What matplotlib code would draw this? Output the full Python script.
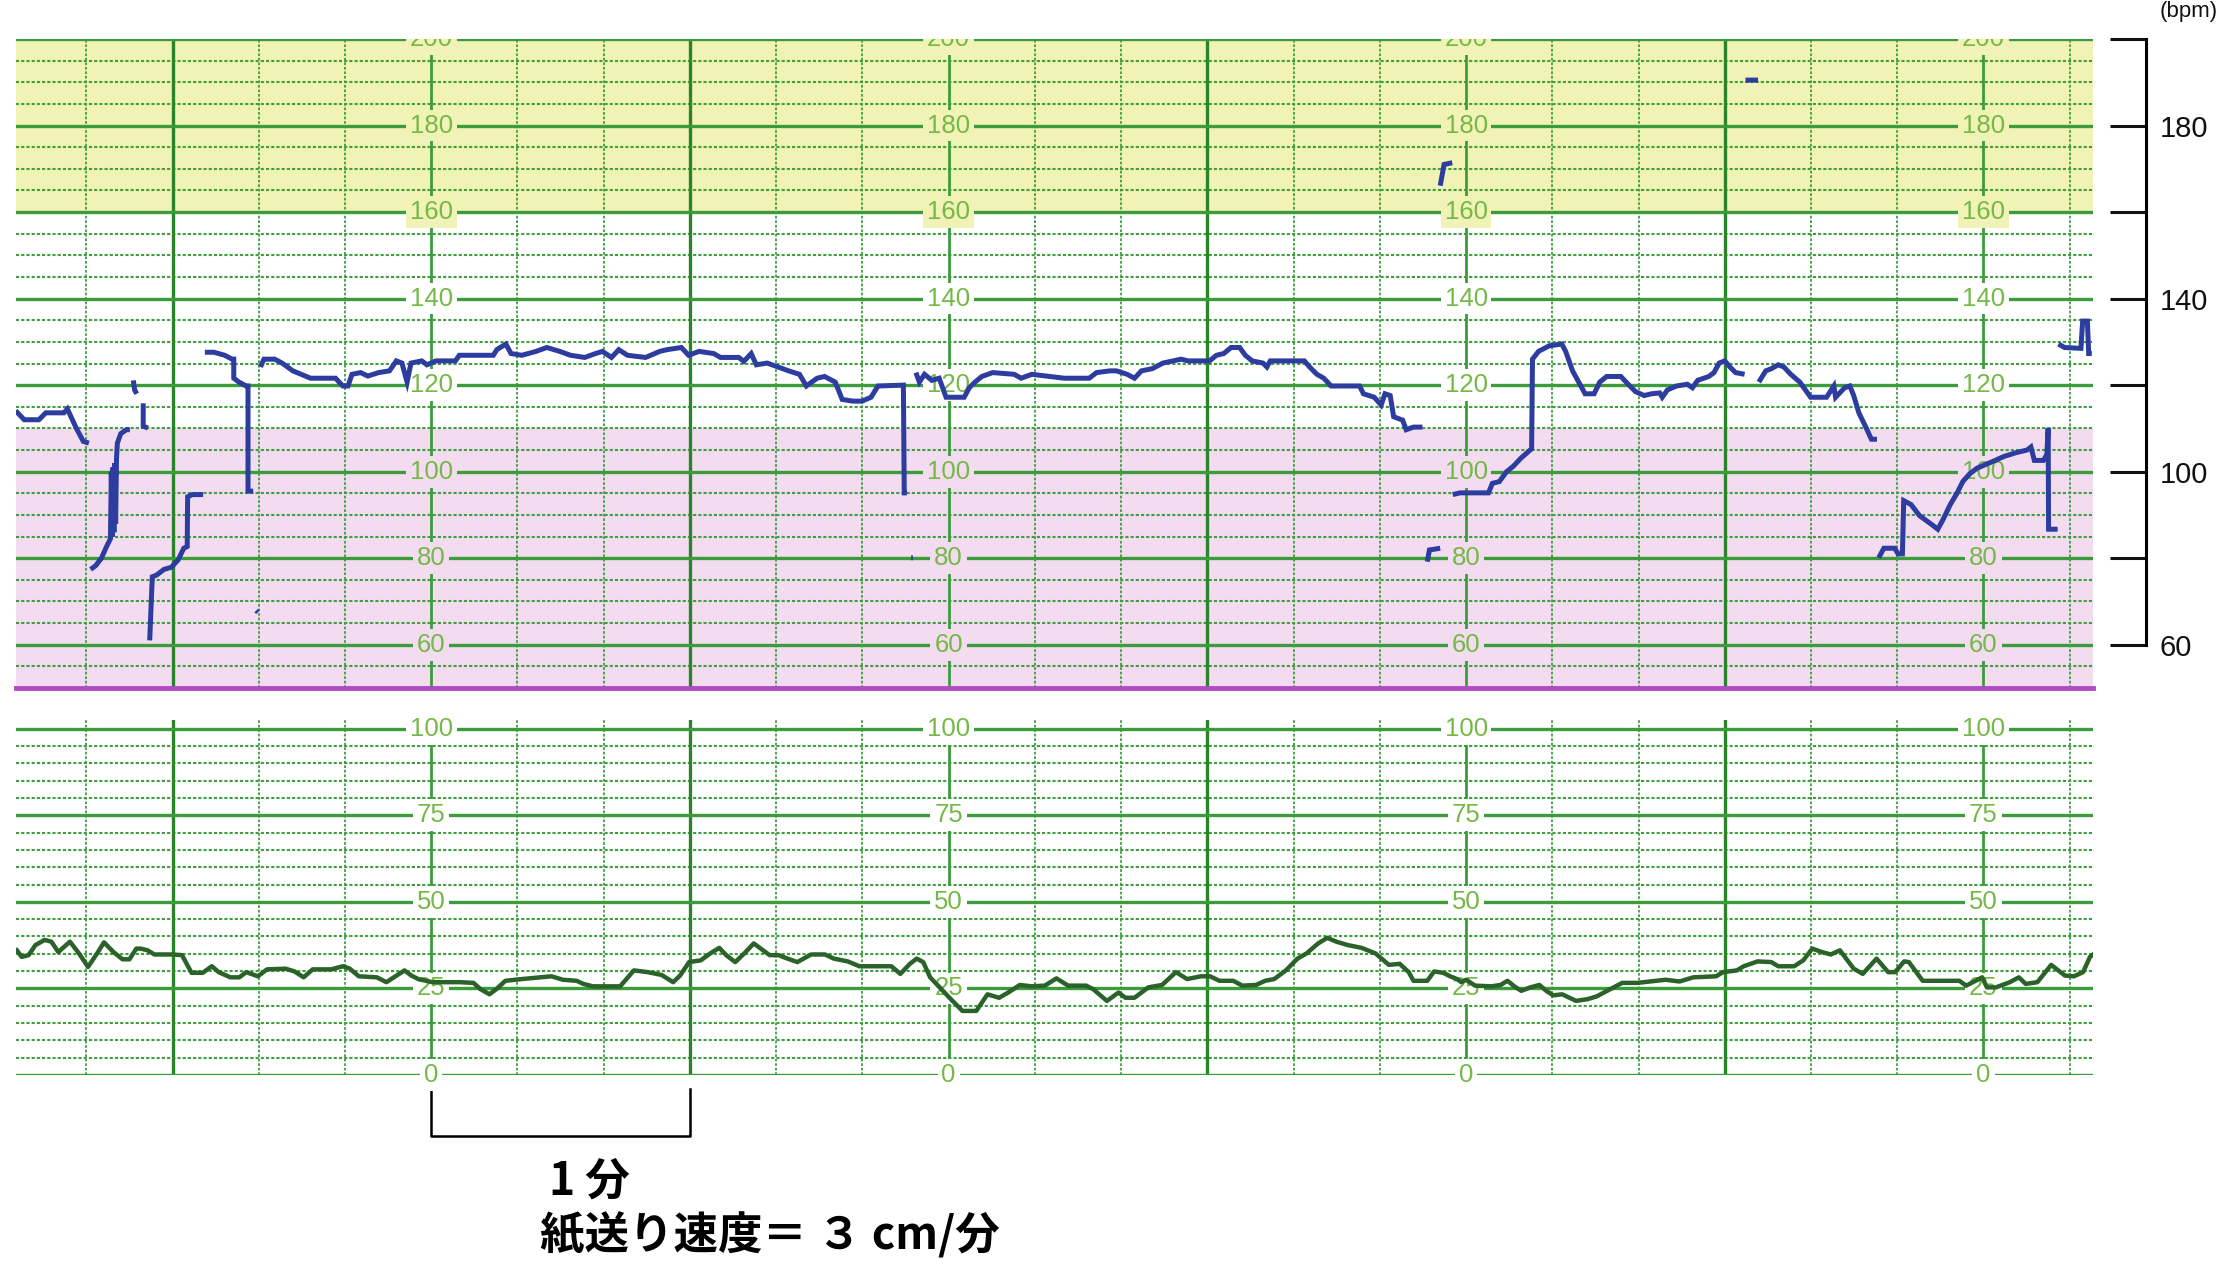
import numpy as np
import matplotlib
matplotlib.use('Agg')
import matplotlib.pyplot as plt

nan = np.nan

# time in seconds, 0 = first column of scale numbers; one grid cell = 20 s (1 cm at 3 cm/min)
x_min, x_max = -96.4, 385.4
scale_cols = [0, 120, 240, 360]

fhr_labels = [200, 180, 160, 140, 120, 100, 80, 60]
ua_labels = [100, 75, 50, 25, 0]
right_major = [180, 140, 100, 60]
right_minor = [200, 160, 120, 80]
bracket_span = [0, 60]   # one minute

# fetal heart rate (bpm), nan = signal lost
fhr_time = [
    -96.4, -94.4, -91.0, -89.4, -85.2, -84.4, -82.3, -80.7, -79.4, nan,
    -79.0, -77.8, -76.5, -75.3, -74.4, -74.2, -74.0, -73.8, -73.6, -73.4, -73.2, -73.0, -72.8, -72.0, -70.7, -69.9, nan,
    -69.1, -68.8, -68.3, nan,
    -66.8, -66.8, -65.7, nan,
    -65.3, -65.0, -64.7, -63.7, -62.0, -60.3, -58.7, -57.4, -56.6, -56.5, -55.4, -52.9, nan,
    -40.6, -40.2, nan,
    -52.5, -50.4, -47.9, -46.2, -45.8, -45.8, -44.6, -42.9, -42.5, -42.5, -41.3, nan,
    -39.6, -38.8, -36.3, -34.6, -32.1, -28.0, -22.2, -20.5, -19.3, -18.4, -16.4, -14.7, -12.2, -9.7, -8.1,
    -6.8, -5.6, -4.7, -2.2, -1.0, 1.1, 5.6, 6.5, 14.4, 15.2, 17.3, 18.5, 21.0, 24.3, 26.8,
    29.8, 32.3, 35.6, 38.1, 39.7, 41.8, 43.5, 45.5, 49.7, 53.0, 54.7, 58.0, 59.7, 62.1, 65.5, 67.1, 71.3, 72.5,
    74.2, 75.4, 77.9, 80.4, 82.9, 85.4, 87.0, 89.5, 91.2, 93.7, 95.3, 97.8, 99.9, 102.0, 103.6, 109.5, 109.7, 110.3, nan,
    111.3, 111.7, nan,
    112.4, 113.2, 114.4, 116.1, 117.8, 119.4, 123.6, 124.8, 126.1, 127.7, 130.2, 135.2, 136.8, 139.3, 143.5, 146.8,
    152.6, 154.3, 157.4,
    158.9, 161.4, 163.1, 164.7, 167.2, 169.7, 173.9, 175.5, 180.5, 182.1, 183.8, 185.5, 187.5, 188.8, 190.4, 192.9,
    193.8, 194.6, 202.5, 203.7, 205.4, 207.0, 208.7, 215.3, 216.2, 218.7, 220.3, 221.2, 222.4, 223.2, 225.3, 226.1,
    227.8, 229.9, nan,
    231.0, 231.5, 234.0, nan,
    234.0, 234.9, 236.8, nan,
    236.9, 238.6, 245.2, 246.1, 247.7, 249.4, 251.0, 252.7, 255.2, 255.4, 256.8, 259.3, 262.2, 263.1, 264.7, 267.6,
    269.7, 271.0, 272.6, 275.9, 277.6, 279.3, 281.3, 283.0, 284.9,
    285.5, 286.7, 288.8, 291.3, 292.5, 293.7, 296.3, 297.5, 298.7, 300.0, 301.2, 302.5, 304.6, nan,
    304.8, 307.7, nan,
    307.9, 309.5, 310.8, 312.4, 313.7, 315.3, 317.4, 318.7, 319.9, 323.6, 325.3, 325.7, 327.8, 329.0, 329.9, 331.1,
    332.8, 334.0, 335.3, nan,
    335.7, 336.9, 339.4, 340.2, 341.2, 341.5, 343.2, 345.2, 347.7, 349.4, 350.6, 352.3, 353.9, 355.2, 356.8, 358.5,
    360.6, 362.7, 364.7, 367.6, 370.1, 371.0, 371.8, 373.9, 374.7, 375.0, 375.1, 377.2, nan,
    377.4, 378.8, 382.6, 383.0, 384.1, 384.4, 385.1,
]
fhr_bpm = [
    114.1, 112.0, 112.0, 113.6, 113.6, 114.5, 110.0, 107.0, 106.6, nan,
    77.4, 78.3, 80.0, 82.7, 84.5, 100.0, 85.0, 101.0, 86.0, 102.0, 88.0, 103.0, 106.6, 108.8, 109.7, 109.7, nan,
    121.1, 118.9, 118.0, nan,
    115.8, 110.5, 110.1, nan,
    61.0, 68.2, 75.7, 76.1, 77.4, 77.9, 79.6, 82.3, 82.7, 94.2, 94.7, 94.7, nan,
    67.9, 67.5, nan,
    127.6, 127.6, 126.9, 126.0, 126.0, 121.6, 120.7, 119.8, 119.8, 95.5, 95.5, nan,
    124.2, 126.0, 126.0, 125.1, 123.3, 121.6, 121.6, 119.8, 119.8, 122.5, 122.9, 122.1, 122.9, 123.3, 125.6,
    125.1, 120.7, 125.1, 125.6, 124.7, 125.6, 125.6, 126.9, 126.9, 128.2, 129.5, 127.3, 126.9, 127.8, 128.7,
    127.8, 126.9, 126.4, 127.3, 127.8, 126.4, 128.2, 126.9, 126.4, 127.8, 128.2, 128.7, 126.9, 127.8, 127.3, 126.4, 126.4, 125.5,
    127.3, 124.7, 125.1, 124.2, 123.3, 122.5, 119.8, 121.6, 122.0, 120.7, 116.7, 116.3, 116.3, 117.2, 119.8, 120.0, 95.1, 95.1, nan,
    80.1, 80.1, nan,
    122.9, 120.7, 122.5, 121.1, 121.6, 117.2, 117.2, 119.4, 120.7, 122.0, 122.9, 122.5, 121.6, 122.5, 122.0, 121.6,
    121.6, 122.9, 123.3,
    123.3, 122.5, 121.6, 123.3, 123.8, 125.1, 126.0, 125.6, 125.6, 126.9, 127.3, 128.7, 128.7, 126.9, 125.6, 125.1,
    124.2, 125.6, 125.6, 124.2, 122.5, 121.6, 119.8, 119.8, 118.0, 117.2, 115.4, 118.0, 117.6, 112.7, 111.9, 109.7,
    110.3, 110.3, nan,
    79.2, 81.9, 82.3, nan,
    166.1, 171.0, 171.4, nan,
    94.7, 95.1, 95.1, 97.3, 97.7, 100.0, 101.3, 103.1, 105.3, 126.0, 127.8, 129.1, 129.5, 127.8, 123.3, 118.0,
    118.0, 120.7, 122.0, 122.0, 120.2, 118.5, 117.6, 118.0, 118.2,
    117.2, 118.9, 119.8, 120.2, 119.4, 121.1, 122.0, 122.9, 125.1, 125.6, 124.2, 122.9, 122.5, nan,
    190.5, 190.5, nan,
    120.7, 123.3, 123.8, 124.7, 124.2, 122.5, 120.7, 118.9, 117.2, 117.2, 119.8, 117.2, 119.4, 119.8, 117.6, 113.6,
    110.1, 107.5, 107.5, nan,
    80.1, 82.3, 82.3, 81.0, 81.0, 93.3, 92.4, 89.8, 88.0, 86.7, 88.9, 92.4, 95.1, 97.7, 99.5, 100.8,
    101.7, 102.6, 103.5, 104.4, 105.0, 105.7, 102.6, 102.6, 104.0, 110.1, 86.7, 86.7, nan,
    129.5, 128.7, 128.5, 134.8, 134.8, 127.3, 127.3,
]

# uterine activity
ua_time = [
    -96.1, -95.0, -93.4, -91.8, -89.7, -88.1, -86.5, -83.8, -81.7, -79.6, -77.5, -75.9, -73.7, -71.6, -70.0, -68.4,
    -67.4, -65.8, -64.2, -59.9, -57.8, -55.6, -53.0, -50.9, -49.3, -46.6, -44.5, -42.9, -40.2, -38.1, -33.8, -31.7,
    -29.6, -27.5, -23.2, -20.5, -18.9, -16.8, -12.6, -10.4, -8.3, -6.2, -4.6, -3.0, 0.2, 6.6, 9.8, 11.4, 13.5, 15.1,
    17.2, 21.0, 25.2, 27.9, 30.5, 33.7, 35.3, 37.5, 43.8, 47.0, 50.2, 53.4, 56.1, 57.7, 59.8,
    62.5, 64.7, 66.8, 68.4, 70.5, 72.6, 74.8, 76.4, 78.5, 80.6, 82.2, 84.9, 88.1, 91.3, 93.4, 96.6, 99.3, 106.7,
    108.8, 111.0, 112.6, 114.1, 115.7, 117.9, 120.5, 123.2, 126.4, 129.0, 131.7, 133.8, 136.5, 139.2, 142.3, 145.0,
    147.7, 151.9, 153.5, 156.7, 159.4, 161.0, 163.1, 166.3, 169.5, 172.7, 175.3, 178.5, 180.6, 182.8, 186.0, 188.1,
    191.3, 193.4, 195.5, 198.2, 200.9, 203.0, 205.7, 207.8, 209.9, 212.6, 215.8, 219.0, 222.1,
    224.6, 226.7, 227.8, 231.0, 232.6, 234.7, 236.3, 237.9, 238.9, 240.0, 242.1, 245.9, 248.0, 249.6, 251.2, 252.8,
    254.9, 257.0, 258.6, 260.2, 262.3, 265.5, 268.2, 270.3, 273.5, 276.2, 279.9, 282.6, 286.3, 289.5, 292.7, 298.0,
    299.6, 302.8, 304.4, 307.6, 310.8, 312.4, 316.1, 318.2, 320.3, 322.5, 324.6, 326.7, 329.9, 332.0, 335.2, 337.9,
    339.5, 341.6, 342.7, 345.9, 354.4, 356.0, 359.7, 360.8, 362.9, 366.1, 368.2, 369.8, 372.5, 375.7, 378.9, 381.0,
    383.1, 384.7, 385.2,
]
ua_value = [
    36.0, 34.1, 34.6, 37.5, 39.0, 38.5, 35.5, 38.5, 35.1, 31.2, 35.1, 38.3, 35.5, 33.4, 33.4, 36.5,
    36.5, 36.0, 34.8, 34.8, 34.6, 29.5, 29.5, 31.4, 29.7, 28.2, 28.2, 29.7, 28.5, 30.5, 30.7, 29.9,
    28.2, 30.5, 30.5, 31.4, 30.7, 28.5, 28.2, 26.8, 28.5, 30.2, 28.7, 27.7, 26.8, 26.8, 26.6, 24.8, 23.3, 24.8,
    27.2, 27.7, 28.2, 28.5, 27.5, 27.2, 26.3, 25.6, 25.6, 30.2, 29.7, 28.9, 26.8, 28.7, 32.6,
    33.1, 35.1, 36.7, 34.6, 32.6, 35.1, 38.0, 36.5, 34.6, 34.6, 33.8, 32.6, 34.8, 34.8, 33.6, 32.8, 31.4, 31.4,
    29.2, 32.1, 33.6, 32.6, 28.2, 25.3, 21.9, 18.5, 18.5, 23.3, 22.3, 23.8, 26.0, 25.6, 25.8, 27.9,
    25.8, 25.8, 24.8, 21.4, 23.8, 22.3, 22.3, 25.3, 26.0, 29.7, 27.7, 28.5, 28.5, 27.2, 27.2, 25.8,
    26.0, 27.2, 27.7, 30.2, 33.6, 35.1, 38.0, 39.6, 38.5, 37.5, 36.7, 35.1, 31.8,
    32.1, 29.7, 27.2, 27.2, 29.9, 29.5, 28.5, 27.7, 26.8, 27.5, 25.8, 25.6, 26.0, 27.2, 25.6, 24.3,
    25.3, 26.0, 24.3, 23.0, 23.3, 21.4, 21.9, 22.7, 24.8, 26.6, 26.6, 27.0, 27.5, 27.0, 28.2, 28.5,
    29.7, 30.2, 31.4, 32.8, 32.6, 31.4, 31.4, 33.1, 36.5, 35.5, 34.8, 36.0, 30.7, 29.2, 33.6, 29.7,
    29.7, 32.8, 32.6, 27.2, 27.2, 25.8, 28.2, 25.3, 25.3, 26.8, 28.2, 26.3, 26.8, 31.8, 28.7, 28.5,
    29.7, 34.1, 34.6,
]

yellow = '#f1f3b6'
pink = '#f3dcf0'
major_green = '#3c9c3c'
thick_green = '#2a842a'
minor_green = '#3f9f3f'
label_green = '#74b846'
narrow = ['Liberation Sans Narrow', 'Liberation Sans', 'DejaVu Sans']
jp = ['Noto Sans CJK JP', 'DejaVu Sans']

W, H = 2225, 1271
fig = plt.figure(figsize=(W / 100, H / 100), dpi=100)
left, right = 15.6, 2093
ax1 = fig.add_axes([left / W, 1 - 688 / H, (right - left) / W, (688 - 39) / H])
ax2 = fig.add_axes([left / W, 1 - 1075 / H, (right - left) / W, (1075 - 720) / H])


def vertical_grid(ax):
    for t in range(-80, 381, 20):
        if t % 120 == 0:
            ax.axvline(t, color=major_green, lw=2.0, zorder=2)
        elif (t - 60) % 120 == 0:
            ax.axvline(t, color=thick_green, lw=2.4, zorder=2)
        else:
            ax.axvline(t, color=minor_green, lw=1.3, ls=(0, (1.5, 1)), zorder=1)


def horizontal_grid(ax, lo, hi, step, major):
    for v in np.arange(lo, hi + 0.1, step):
        if v % major == 0:
            ax.axhline(v, color=major_green, lw=2.4, zorder=2)
        else:
            ax.axhline(v, color=minor_green, lw=1.5, ls=(0, (1.5, 1)), zorder=1)


for ax in (ax1, ax2):
    ax.set_xlim(x_min, x_max)
    ax.set_xticks([])
    ax.set_yticks([])
    for s in ax.spines.values():
        s.set_visible(False)

# ---- fetal heart rate panel
ax1.set_ylim(50, 200)
ax1.axhspan(160, 200, color=yellow, lw=0, zorder=0)
ax1.axhspan(50, 110, color=pink, lw=0, zorder=0)
vertical_grid(ax1)
horizontal_grid(ax1, 55, 200, 5, 20)
ax1.axhline(50, color='#b04cc2', lw=3.5, zorder=5, clip_on=False)

for c in scale_cols:
    for v in fhr_labels:
        bg = yellow if v >= 160 else (pink if v <= 100 else 'white')
        ax1.text(c, v, str(v), ha='center', va='center', fontsize=18.5, color=label_green,
                 family=narrow, zorder=3, clip_on=True,
                 bbox=dict(boxstyle='square,pad=0.15', fc=bg, ec='none'))

ax1.plot(fhr_time, fhr_bpm, color='#2d3c9f', lw=3.6, zorder=6,
         solid_joinstyle='miter', solid_capstyle='butt')

# ---- uterine activity panel
ax2.set_ylim(0, 102.5)
vertical_grid(ax2)
horizontal_grid(ax2, 0, 100, 5, 25)

for c in scale_cols:
    for v in ua_labels:
        ax2.text(c, v, str(v), ha='center', va='center', fontsize=18.5, color=label_green,
                 family=narrow, zorder=3, clip_on=False,
                 bbox=dict(boxstyle='square,pad=0.15', fc='white', ec='none'))

ax2.plot(ua_time, ua_value, color='#2a622a', lw=3.2, zorder=6)

# ---- bpm scale on the right
axr = fig.add_axes([2100 / W, 1 - 688 / H, 46 / W, (688 - 39) / H])
axr.set_ylim(50, 200)
axr.patch.set_visible(False)
for k in ('left', 'top', 'bottom'):
    axr.spines[k].set_visible(False)
axr.spines['right'].set_bounds(60, 200)
axr.spines['right'].set_linewidth(2.2)
axr.set_xticks([])
axr.yaxis.tick_right()
axr.set_yticks(right_major)
axr.set_yticks(right_minor, minor=True)
axr.tick_params(axis='y', which='both', direction='in', length=26, width=2.2, pad=10,
                labelsize=21, colors='#111111')
for lab in axr.get_yticklabels():
    lab.set_family('Liberation Sans')
fig.text(2160 / W, 1 - 12 / H, '(bpm)', fontsize=16, ha='left', va='center',
         family='Liberation Sans', color='#111111')

# ---- one-minute bracket and paper speed note
trans = ax2.get_xaxis_transform()
b0, b1 = bracket_span
ax2.plot([b0, b0, b1, b1], [-0.039, -0.172, -0.172, -0.039], transform=trans,
         clip_on=False, color='black', lw=1.8)
ax2.text(27.3, -0.30, '1 分', transform=trans, fontsize=32, fontweight='bold',
         family=jp, ha='left', va='center')
ax2.text(25.3, -0.455, '紙送り速度＝ ３ cm/分', transform=trans, fontsize=32,
         fontweight='bold', family=jp, ha='left', va='center')

fig.savefig('out.png', dpi=100, facecolor='white')
